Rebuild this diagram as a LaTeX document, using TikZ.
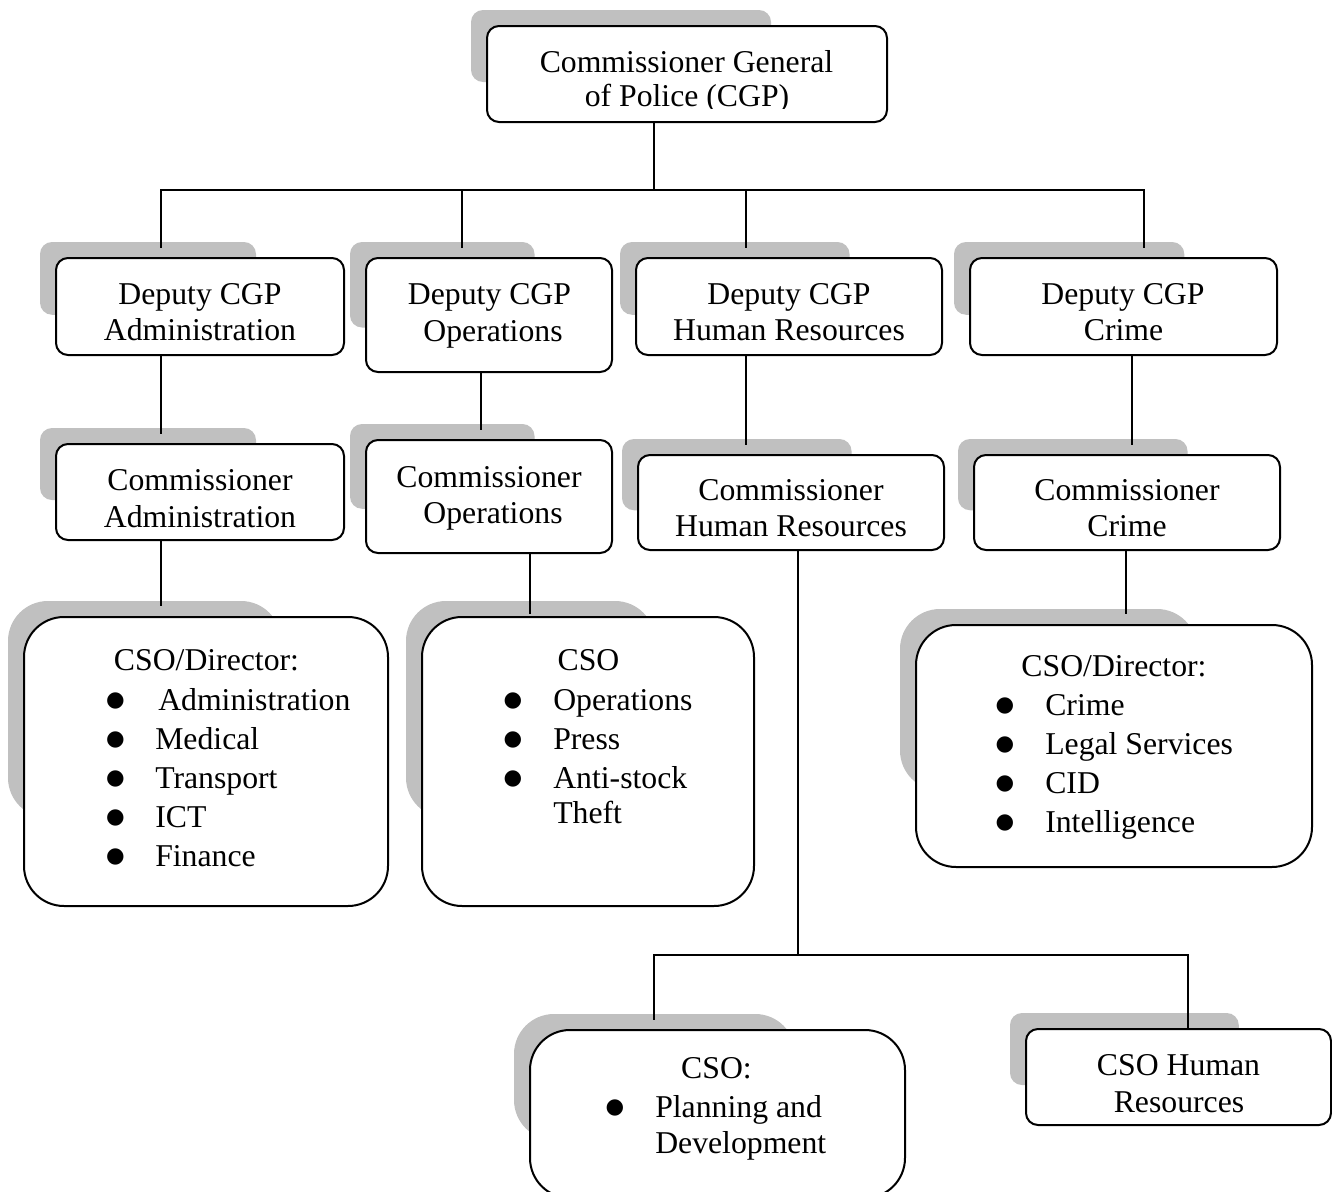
\documentclass[tikz,border=0pt]{standalone}
\usepackage{fontspec}
\setmainfont{Liberation Serif}
\newfontfamily\bulletfont{DejaVu Sans}
\usetikzlibrary{calc}
\pgfdeclarelayer{bg}
\pgfdeclarelayer{shadow}
\pgfdeclarelayer{links}
\pgfsetlayers{bg,shadow,links,main}
\definecolor{shadowgray}{RGB}{192,192,192}
\tikzset{
  orgbox/.style={rectangle, draw=black, fill=white, line width=1.5pt, inner sep=0pt, outer sep=0pt},
  txt/.style={inner sep=0pt, font=\fontsize{23.8pt}{27pt}\selectfont},
  dot/.style={inner sep=0pt, font=\bulletfont\fontsize{16pt}{16pt}\selectfont},
  link/.style={line width=1.5pt, line cap=rect},
}
% box #1 from (#2,#3) to (#4,#5), corner radius #6 (pt), with its grey offset shadow
\newcommand\orgunit[6]{%
  \node[orgbox, rounded corners=#6pt,
        minimum width={(#4-#2)*0.75pt}, minimum height={(#5-#3)*0.75pt}]
        (#1) at ({(#2+#4)/2},{(#3+#5)/2}) {};
  \begin{pgfonlayer}{shadow}
    \fill[shadowgray, rounded corners=#6pt]
      ($(#1.north west)+(-16,-16)$) rectangle ($(#1.north west)!0.75!(#1.south east)+(-16,-16)$);
  \end{pgfonlayer}}
\newcommand\ctext[4]{\node[txt, anchor=base] (#1) at (#2,#3) {#4};}
\newcommand\ltext[4]{\node[txt, anchor=base west] (#1) at (#2,#3) {#4};}
% list bullet for the line whose baseline is at #3, lifted onto the x-height
\newcommand\bull[3]{\node[dot, anchor=base] (#1) at (#2,{#3-4}) {●};}
\begin{document}
\begin{tikzpicture}[x=0.75pt, y=-0.75pt]
\useasboundingbox (0,0) rectangle (1332,1192);
\begin{pgfonlayer}{bg}
  \fill[white] (0,0) rectangle (1332,1192);
\end{pgfonlayer}

% ---- boxes ----
\orgunit{cgp}{487}{26}{887}{122}{9}
\orgunit{da}{56}{258}{344}{355}{9}
\orgunit{do}{366}{258}{612}{372}{9}
\orgunit{dh}{636}{258}{942}{355}{9}
\orgunit{dc}{970}{258}{1277}{355}{9}
\orgunit{ca}{56}{444}{344}{540}{9}
\orgunit{co}{366}{440}{612}{553}{9}
\orgunit{ch}{638}{455}{944}{550}{9}
\orgunit{cc}{974}{455}{1280}{550}{9}
\orgunit{sa}{24}{617}{388}{906}{30}
\orgunit{so}{422}{617}{754}{906}{30}
\orgunit{sc}{916}{625}{1312}{867}{30}
\orgunit{sp}{530}{1030}{905}{1198}{30}
\orgunit{sh}{1026}{1029}{1331}{1125}{9}

% ---- connectors ----
\coordinate (j0) at (654,190);
\coordinate (busL) at (161,190);
\coordinate (busR) at (1144,190);
\coordinate (e1) at (161,247);
\coordinate (e2) at (462,247);
\coordinate (e3) at (746,247);
\coordinate (e4) at (1144,247);
\coordinate (f1) at (161,433);
\coordinate (f2) at (481,429);
\coordinate (f3) at (746,444);
\coordinate (f4) at (1132,444);
\coordinate (g1) at (161,605);
\coordinate (g2) at (530,613);
\coordinate (g4) at (1126,613);
\coordinate (j1) at (798,955);
\coordinate (bus2L) at (654,955);
\coordinate (bus2R) at (1188,955);
\coordinate (h1) at (654,1019);
\begin{pgfonlayer}{links}
  \draw[link] (cgp.south -| j0) -- (j0);
  \draw[link] (busL) -- (busR);
  \draw[link] (busL) -- (e1);
  \draw[link] (e2 |- busL) -- (e2);
  \draw[link] (e3 |- busL) -- (e3);
  \draw[link] (busR) -- (e4);
  \draw[link] (da.south -| f1) -- (f1);
  \draw[link] (do.south -| f2) -- (f2);
  \draw[link] (dh.south -| f3) -- (f3);
  \draw[link] (dc.south -| f4) -- (f4);
  \draw[link] (ca.south -| g1) -- (g1);
  \draw[link] (co.south -| g2) -- (g2);
  \draw[link] (cc.south -| g4) -- (g4);
  \draw[link] (ch.south -| j1) -- (j1);
  \draw[link] (bus2L) -- (bus2R);
  \draw[link] (bus2L) -- (h1);
  \draw[link] (bus2R) -- (sh.north -| bus2R);
\end{pgfonlayer}

% ---- labels ----
\begin{scope}
  \clip (480,20) rectangle (890,108);
  \ctext{t1}{686.5}{72}{Commissioner General}
  \ctext{t2}{687}{106}{of Police (CGP)}
\end{scope}
\ctext{da1}{200}{304}{Deputy CGP}
\ctext{da2}{200}{340}{Administration}
\ctext{do1}{489.5}{304}{Deputy CGP}
\ctext{do2}{493}{341}{Operations}
\ctext{dh1}{789}{304}{Deputy CGP}
\ctext{dh2}{789}{340}{Human Resources}
\ctext{dc1}{1123}{304}{Deputy CGP}
\ctext{dc2}{1123.5}{340}{Crime}
\ctext{ca1}{200}{490}{Commissioner}
\ctext{ca2}{200}{527}{Administration}
\ctext{co1}{489}{487}{Commissioner}
\ctext{co2}{493}{523}{Operations}
\ctext{ch1}{791}{500}{Commissioner}
\ctext{ch2}{791}{536}{Human Resources}
\ctext{cc1}{1127}{500}{Commissioner}
\ctext{cc2}{1127}{536}{Crime}
\ctext{sh1}{1178.5}{1075}{CSO Human}
\ctext{sh2}{1179}{1112}{Resources}

% CSO/Director: administration branch
\ctext{sa0}{206.5}{670}{CSO/Director:}
\bull{sab1}{115.5}{710}\ltext{sa1}{158}{710}{Administration}
\bull{sab2}{115.5}{749}\ltext{sa2}{155}{749}{Medical}
\bull{sab3}{115.5}{788}\ltext{sa3}{155}{788}{Transport}
\bull{sab4}{115.5}{827}\ltext{sa4}{155}{827}{ICT}
\bull{sab5}{115.5}{866}\ltext{sa5}{155}{866}{Finance}

% CSO: operations branch
\ctext{so0}{588.5}{670}{CSO}
\bull{sob1}{513}{710}\ltext{so1}{553}{710}{Operations}
\bull{sob2}{513}{749}\ltext{so2}{553}{749}{Press}
\bull{sob3}{513}{788}\ltext{so3}{553}{788}{Anti-stock}
\ltext{so4}{553}{823}{Theft}

% CSO/Director: crime branch
\ctext{sc0}{1114}{676}{CSO/Director:}
\bull{scb1}{1005}{715}\ltext{sc1}{1045}{715}{Crime}
\bull{scb2}{1005}{754}\ltext{sc2}{1045}{754}{Legal Services}
\bull{scb3}{1005}{793}\ltext{sc3}{1045}{793}{CID}
\bull{scb4}{1005}{832}\ltext{sc4}{1045}{832}{Intelligence}

% CSO: planning and development
\ctext{sp0}{716.5}{1078}{CSO:}
\bull{spb1}{615}{1117}\ltext{sp1}{655}{1117}{Planning and}
\ltext{sp2}{655}{1153}{Development}
\end{tikzpicture}
\end{document}
